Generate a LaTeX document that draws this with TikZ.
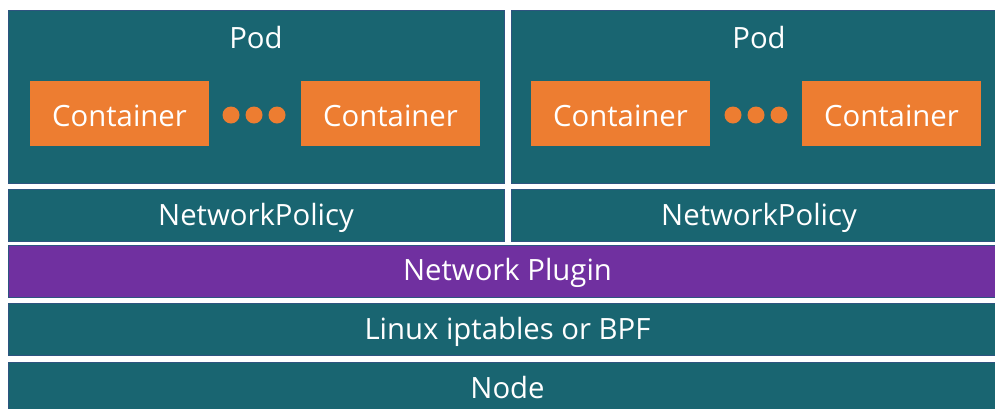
\documentclass[tikz,border=0pt]{standalone}
\usepackage{fontspec}
\setmainfont{Open Sans}
\usepackage{tikz}
\usetikzlibrary{positioning}

\definecolor{layerteal}{RGB}{25,101,113}
\definecolor{layeredge}{RGB}{46,84,128}
\definecolor{plugpurple}{RGB}{112,48,160}
\definecolor{boxorange}{RGB}{237,125,49}

\begin{document}
\begin{tikzpicture}[x=1pt, y=-1pt,
  layer/.style={draw=layeredge, line width=0.8pt, fill=layerteal, rectangle, inner sep=0pt, anchor=north west},
  ctr/.style={fill=boxorange, rectangle, inner sep=0pt, anchor=north west, minimum width=179pt, minimum height=65pt},
  dot/.style={fill=boxorange, circle, inner sep=0pt, minimum size=17pt},
  txt/.style={text=white, inner sep=0pt, anchor=base, font=\fontsize{29.3}{35}\selectfont}]
\useasboundingbox (0,0) rectangle (995,408);
\clip (0,0) rectangle (995,408);

% two pods with their policies
\node (pod1) [layer, minimum width=496pt, minimum height=173pt] at (8,10) {};
\node (pod2) [layer, minimum width=496pt, minimum height=173pt] at (511,10) {};
\node (np1) [layer, minimum width=496pt, minimum height=52pt] at (8,189) {};
\node (np2) [layer, minimum width=496pt, minimum height=52pt] at (511,189) {};

% shared layers underneath
\node (plugin) [layer, fill=plugpurple, minimum width=999pt, minimum height=52pt] at (8,245) {};
\node (kernel) [layer, minimum width=999pt, minimum height=52pt] at (8,303) {};
\node (host) [layer, minimum width=999pt, minimum height=60pt] at (8,362) {};

% containers
\node (c1a) [ctr] at (30,81) {};
\node (c1b) [ctr] at (301,81) {};
\node (c2a) [ctr] at (531,81) {};
\node (c2b) [ctr] at (802,81) {};
\foreach \x in {231,254,277,733,756,779}
  \node (dot\x) [dot] at (\x,115) {};

% labels
\node (podtext1) [txt] at (256,48.5) {Pod};
\node (podtext2) [txt] at (759,48.5) {Pod};
\node (c1atext) [txt] at (119.5,126) {Container};
\node (c1btext) [txt] at (390.5,126) {Container};
\node (c2atext) [txt] at (620.5,126) {Container};
\node (c2btext) [txt] at (891.5,126) {Container};
\node (np1text) [txt] at (256,225) {NetworkPolicy};
\node (np2text) [txt] at (759,225) {NetworkPolicy};
\node (plugintext) [txt] at (507.5,280) {Network Plugin};
\node (kerneltext) [txt] at (507.5,339) {Linux iptables or BPF};
\node (hosttext) [txt] at (507.5,398) {Node};
\end{tikzpicture}
\end{document}
